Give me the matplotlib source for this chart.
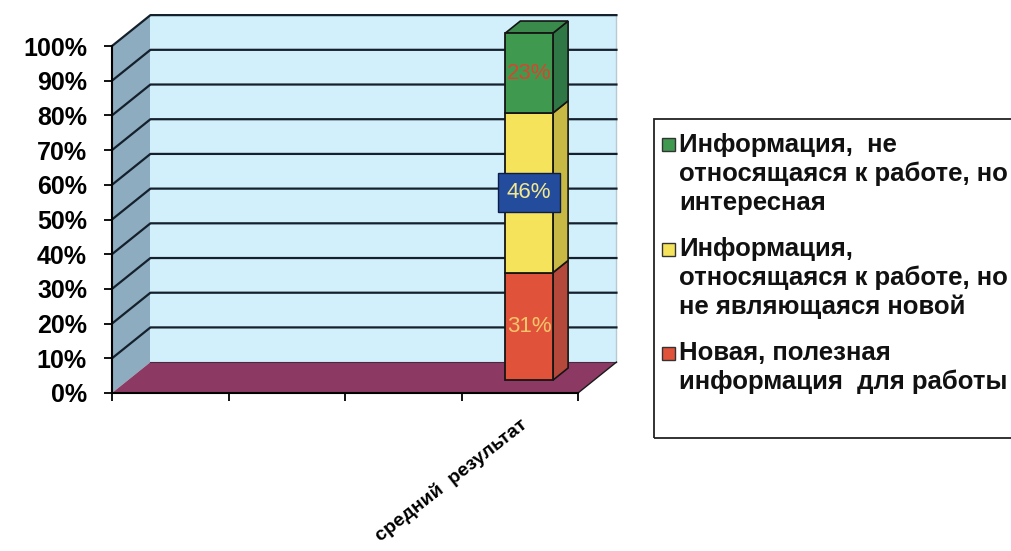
import numpy as np
import matplotlib.pyplot as plt
from matplotlib.patches import Polygon, Rectangle

plt.rcParams['font.family'] = ['Liberation Sans', 'DejaVu Sans']

#---------chart data-----------
categories = ['', '', '', 'средний  результат']
series_names = ['Новая, полезная\nинформация  для работы',
                'Информация,\nотносящаяся к работе, но\nне являющаяся новой',
                'Информация,  не\nотносящаяся к работе, но\nинтересная']
series_values = [31, 46, 23]
value_labels = ['31%', '46%', '23%']
yticks = list(range(0, 101, 10))
ytick_labels = [str(v) + '%' for v in yticks]

front_colors = ['#e0533a', '#f6e35c', '#3f9a50']
side_colors = ['#b4483a', '#c8b944', '#2f7845']
label_colors = ['#f6c46a', '#f2e88e', '#d8452f']

#---------figure / axes-----------
W, H = 1012, 551
fig = plt.figure(figsize=(W / 100, H / 100), dpi=100)
ax = fig.add_axes([112 / W, 1 - 393 / H, 466 / W, 347 / H])
ncat = len(categories)
ax.set_xlim(0, ncat)
ax.set_ylim(0, 100)
for s in ax.spines.values():
    s.set_visible(False)
ax.patch.set_visible(False)

dx, dy = 0.33, 8.9   # depth of the 3d box (x in categories, y in %)

# walls and floor
ax.add_patch(Polygon([(0, 0), (dx, dy), (dx, 100 + dy), (0, 100)], fc='#8eacbf',
                     ec='none', clip_on=False, zorder=0))
ax.add_patch(Rectangle((dx, dy), ncat, 100, fc='#d2f0fb', ec='none', clip_on=False, zorder=0))
ax.add_patch(Polygon([(0, 0), (ncat, 0), (ncat + dx, dy), (dx, dy)], fc='#8c3a63',
                     ec='none', clip_on=False, zorder=1))
ax.plot([ncat, ncat + dx], [0, dy], color='#1a1a1a', lw=1, clip_on=False, zorder=2)
ax.plot([ncat + dx, ncat + dx], [dy, 100 + dy], color='#b9c9d2', lw=1, clip_on=False, zorder=1)
ax.plot([dx, ncat + dx], [dy, dy], color='#4a2a40', lw=0.8, clip_on=False, zorder=1)

# gridlines on side and back wall
for v in yticks[1:]:
    ax.plot([0, dx, ncat + dx], [v, v + dy, v + dy], color='#14202c', lw=1.6,
            clip_on=False, zorder=2)

# front axis lines
ax.plot([0, 0], [0, 100], color='black', lw=1.5, clip_on=False, zorder=3)
ax.plot([0, ncat], [0, 0], color='black', lw=1.5, clip_on=False, zorder=3)

ax.set_yticks(yticks)
ax.set_yticklabels(ytick_labels, fontweight='bold')
ax.tick_params(axis='y', length=6, width=1.3, pad=12, labelsize=18)

ax.set_xticks(range(ncat + 1))
ax.set_xticklabels([])
ax.tick_params(axis='x', which='major', length=6, width=1.3)
ax.set_xticks(np.arange(ncat) + 0.5, minor=True)
ax.set_xticklabels(categories, minor=True, fontweight='bold', fontsize=14,
                   rotation=38, ha='right', va='top', rotation_mode='anchor')
ax.tick_params(axis='x', which='minor', length=0, pad=16)

#---------3d stacked bar-----------
xc = ncat - 0.5 + 0.08       # bar sits a bit back in depth
bw = 0.41
lift = 3.7
bdx, bdy = 0.13, 3.5
bottoms = np.cumsum([0] + series_values[:-1]) + lift

bars = ax.bar([xc] * len(series_values), series_values, bottom=bottoms, width=bw,
              color=front_colors, edgecolor='#151515', linewidth=1.3, zorder=5)
for b in bars:
    b.set_clip_on(False)
xr = xc + bw / 2
xl = xc - bw / 2
for v, b, sc in zip(series_values, bottoms, side_colors):
    ax.add_patch(Polygon([(xr, b), (xr + bdx, b + bdy), (xr + bdx, b + v + bdy), (xr, b + v)],
                         fc=sc, ec='#151515', lw=1.2, clip_on=False, zorder=4))
top = bottoms[-1] + series_values[-1]
ax.add_patch(Polygon([(xl, top), (xl + bdx, top + bdy), (xr + bdx, top + bdy), (xr, top)],
                     fc='#3a8a4b', ec='#151515', lw=1.2, clip_on=False, zorder=4))

for v, b, lab, lc in zip(series_values, bottoms, value_labels, label_colors):
    kw = {}
    if lab == '46%':
        kw['bbox'] = dict(boxstyle='square,pad=0.4', fc='#244c9c', ec='#0e1d45', lw=1)
    ax.text(xc, b + v / 2, lab, color=lc, fontsize=16, ha='center', va='center',
            zorder=6, clip_on=False, **kw)

#---------legend (excel style)-----------
fig.add_artist(Rectangle((654 / W, 1 - 438 / H), 400 / W, 319 / H, transform=fig.transFigure,
                         fill=False, ec='#222222', lw=1.3))
row_y = 145
for name, fc in zip(series_names[::-1], front_colors[::-1]):
    fig.add_artist(Rectangle((662 / W, 1 - (row_y + 6.5) / H), 13 / W, 13 / H,
                             transform=fig.transFigure, fc=fc, ec='#333333', lw=1))
    lines = name.split('\n')
    for i, line in enumerate(lines):
        fig.text(679 / W, 1 - (row_y + i * 29) / H, line, fontsize=18.5, fontweight='bold',
                 ha='left', va='center', color='#111111')
    row_y += len(lines) * 29 + 17

plt.savefig('out.png', dpi=100, facecolor='white')
